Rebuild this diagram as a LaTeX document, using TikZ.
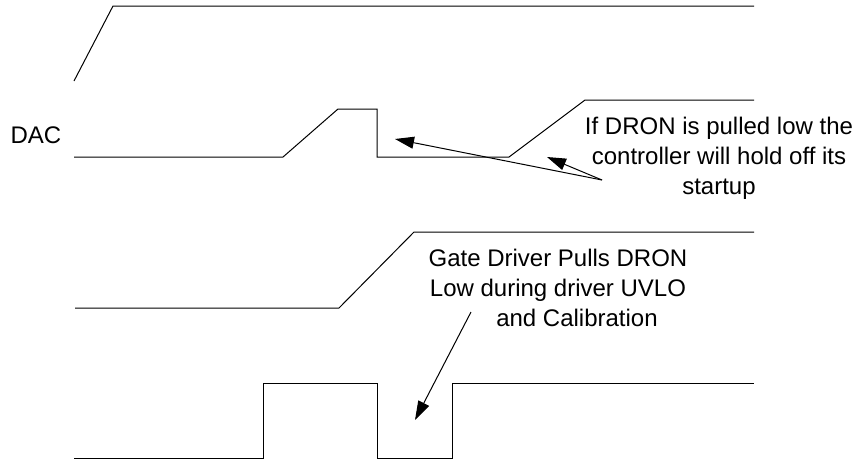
\documentclass[tikz,border=0pt]{standalone}
\usepackage{fontspec}
\setmainfont{Liberation Sans}
\usetikzlibrary{arrows.meta}
\begin{document}
\begin{tikzpicture}[x=1pt,y=-1pt,
  wave/.style={line width=1pt, line join=miter},
  callout/.style={line width=1pt, -{Triangle[length=19pt,width=12pt]}},
  lbl/.style={inner sep=0pt, font=\fontsize{24}{30}\selectfont, align=center}]
\useasboundingbox (0,0) rectangle (863,461);
% waveforms
\draw[wave] (74,81) -- (113,6) -- (754,6);
\draw[wave] (74,157) -- (283,157) -- (338,109) -- (377,109) -- (377,157) -- (509,157) -- (585,100) -- (754,100);
\draw[wave] (75,308) -- (339,308) -- (414,232) -- (754,232);
\draw[wave] (74,458) -- (263,458) -- (263,383) -- (377,383) -- (377,458) -- (452,458) -- (452,383) -- (754,383);
% labels
\node[lbl, anchor=base] (dac) at (36,143) {DAC};
\node[lbl, anchor=north] (note1) at (719,117) {If DRON is pulled low the\\controller will hold off its\\startup};
\node[lbl, anchor=north] (note2) at (558,249) {Gate Driver Pulls DRON\\Low during driver UVLO\\\hspace*{38pt}and Calibration};
% callout arrows
\coordinate (t1) at (602,180);
\coordinate (h1) at (395,139);
\coordinate (h2) at (547,157);
\coordinate (t3) at (471,312);
\coordinate (h3) at (415,420);
\draw[callout] (t1) -- (h1);
\draw[callout] (t1) -- (h2);
\draw[callout] (t3) -- (h3);
\end{tikzpicture}
\end{document}
